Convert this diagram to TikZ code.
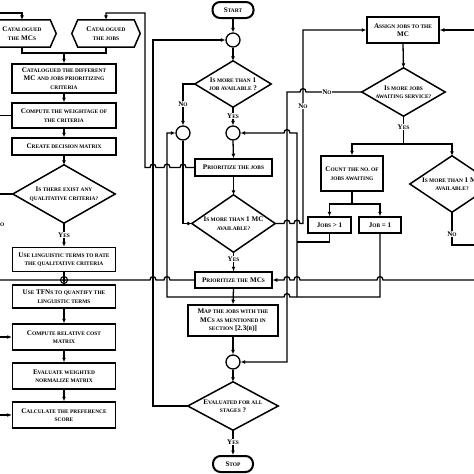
\documentclass[tikz,border=0pt]{standalone}
\usepackage{fontspec}
\setmainfont{Liberation Serif}
\usetikzlibrary{arrows.meta}
\newcommand\smc[1]{{\fontsize{5.4}{8.5}\selectfont\MakeUppercase{#1}}}
\newcommand\hopR[2]{-- (#1-3,#2) .. controls (#1-3,#2-4.5) and (#1+3,#2-4.5) .. (#1+3,#2)}
\newcommand\hopL[2]{-- (#1+3,#2) .. controls (#1+3,#2-4.5) and (#1-3,#2-4.5) .. (#1-3,#2)}
\begin{document}
\begin{tikzpicture}[x=1pt,y=-1pt,
  every node/.style={font=\fontsize{7.1}{8.5}\selectfont\bfseries, inner sep=0pt, align=center},
  box/.style={draw, line width=1.5pt},
  ghost/.style={draw=none},
  ln/.style={line width=1.3pt},
  arr/.style={line width=1.3pt, -{Latex[length=4.5pt,width=4pt]}},
  crc/.style={draw, circle, line width=1.3pt, minimum size=14pt},
  lbl/.style={fill=white, inner sep=0.8pt},
  term/.style={draw, line width=2pt, rounded corners=7.5pt},
  shp/.style={line width=1.5pt}]
\useasboundingbox (0,0) rectangle (474,474);
\clip (0,0) rectangle (474,474);
\fill[white] (0,0) rectangle (474,474);

% free ends
\coordinate (eTL) at (0,13);
\coordinate (eL2) at (0,115.5);
\coordinate (eL3) at (0,194);
\coordinate (eL4) at (0,280);
\coordinate (eL5) at (0,337);
\coordinate (eL6) at (0,415);
\coordinate (eR1) at (474,30);
\coordinate (eR2) at (474,280);
\coordinate (eR3) at (474,245);

% ---------- left column ----------
\node[ghost, minimum width=56pt, minimum height=27pt] (hexM) at (22,33.5) {C\smc{atalogued}\\\smc{the} MC\smc{s}};
\draw[shp] ([xshift=-6pt]hexM.west) -- (hexM.north west) -- (hexM.north east) -- ([xshift=6pt]hexM.east) -- (hexM.south east) -- (hexM.south west) -- cycle;
\node[ghost, minimum width=56pt, minimum height=27pt] (hexJ) at (106,33.5) {C\smc{atalogued}\\\smc{the jobs}};
\draw[shp] ([xshift=-6pt]hexJ.west) -- (hexJ.north west) -- (hexJ.north east) -- ([xshift=6pt]hexJ.east) -- (hexJ.south east) -- (hexJ.south west) -- cycle;

\node[box, minimum width=104pt, minimum height=29pt] (b1) at (64,78.5) {C\smc{atalogued the different}\\MC \smc{and jobs prioritizing}\\\smc{criteria}};
\node[box, minimum width=104pt, minimum height=25pt] (b2) at (64,115.5) {C\smc{ompute the weightage of}\\\smc{the criteria}};
\node[box, minimum width=104pt, minimum height=17pt] (b3) at (64,146.5) {C\smc{reate decision matrix}};
\node[ghost, minimum width=102pt, minimum height=58pt] (d1) at (64,194) {I\smc{s there exist any}\\\smc{qualitative criteria?}};
\draw[shp] (d1.north) -- (d1.east) -- (d1.south) -- (d1.west) -- cycle;
\node[box, minimum width=103pt, minimum height=24pt] (b4) at (64,259.5) {U\smc{se linguistic terms to rate}\\\smc{the qualitative criteria}};
\node[draw, circle, line width=1.1pt, minimum size=7pt] (x0) at (64,280) {};
\node[box, minimum width=103pt, minimum height=23pt] (b5) at (64,296.5) {U\smc{se} TFN\smc{s to quantify the}\\\smc{linguistic terms}};
\node[box, minimum width=103pt, minimum height=26pt] (b6) at (64,337) {C\smc{ompute relative cost}\\\smc{matrix}};
\node[box, minimum width=103pt, minimum height=26pt] (b7) at (64,376) {E\smc{valuate weighted}\\\smc{normalize matrix}};
\node[box, minimum width=103pt, minimum height=26pt] (b8) at (64,415) {C\smc{alculate the preference}\\\smc{score}};

% ---------- middle column ----------
\node[term, minimum width=41pt, minimum height=16pt] (start) at (233,10) {S\smc{tart}};
\node[crc] (c1) at (233,40) {};
\node[ghost, minimum width=76pt, minimum height=46pt] (d2) at (233,84) {I\smc{s more than} 1\\\smc{job available} ?};
\draw[shp] (d2.north) -- (d2.east) -- (d2.south) -- (d2.west) -- cycle;
\node[crc] (c2) at (183,133) {};
\node[crc] (c3) at (233,133) {};
\node[box, minimum width=77pt, minimum height=17pt] (pj) at (233.5,167.5) {P\smc{rioritize the jobs}};
\node[ghost, minimum width=83pt, minimum height=57pt] (d3) at (233.5,223.5) {I\smc{s more than} 1 MC\\\smc{available?}};
\draw[shp] (d3.north) -- (d3.east) -- (d3.south) -- (d3.west) -- cycle;
\node[box, minimum width=77pt, minimum height=16pt] (pm) at (233.5,280) {P\smc{rioritize the} MC\smc{s}};
\node[box, minimum width=90pt, minimum height=31pt] (map) at (233,320.5) {M\smc{ap the jobs with the}\\MC\smc{s as mentioned in}\\\smc{section} [2.3(\smc{b})]};
\node[crc] (c4) at (233,362) {};
\node[ghost, minimum width=90pt, minimum height=48pt] (d4) at (233,406) {E\smc{valuated for all}\\\smc{stages} ?};
\draw[shp] (d4.north) -- (d4.east) -- (d4.south) -- (d4.west) -- cycle;
\node[term, minimum width=40pt, minimum height=16pt] (stop) at (233,464) {S\smc{top}};

% ---------- right part ----------
\node[box, minimum width=72pt, minimum height=26pt] (assign) at (403,30) {A\smc{ssign jobs to the}\\MC};
\node[ghost, minimum width=83pt, minimum height=48pt] (d5) at (403.5,92) {I\smc{s more jobs}\\\smc{awaiting service?}};
\draw[shp] (d5.north) -- (d5.east) -- (d5.south) -- (d5.west) -- cycle;
\node[box, minimum width=62pt, minimum height=35pt] (count) at (352,173.5) {C\smc{ount the no. of}\\\smc{jobs awaiting}};
\node[box, minimum width=43pt, minimum height=16pt] (jg) at (329.5,225) {J\smc{obs} > 1};
\node[box, minimum width=42pt, minimum height=16pt] (je) at (380,225) {J\smc{ob} = 1};
\node[ghost, minimum width=84pt, minimum height=56pt] (d6) at (452,184) {I\smc{s more than} 1 MC\\\smc{available?}};
\draw[shp] (d6.north) -- (d6.east) -- (d6.south) -- (d6.west) -- cycle;

% ---------- connectors: left ----------
\draw[arr] (eTL) -- (22,13) -- (hexM.north);
\draw[ln] (hexM.south) -- (22,53) -- (106,53) -- (hexJ.south);
\draw[arr] (64,53) -- (b1.north);
\draw[arr] (b1.south) -- (b2.north);
\draw[arr] (b2.south) -- (b3.north);
\draw[arr] (b3.south) -- (d1.north);
\draw[ln] (eL2) -- (b2.west);
\draw[ln] (eL3) -- (d1.west);
\draw[arr] (d1.south) -- (b4.north);
\draw[arr] (b4.south) -- (b5.north);
\draw[arr] (b5.south) -- (b6.north);
\draw[arr] (b6.south) -- (b7.north);
\draw[arr] (b7.south) -- (b8.north);
\draw[arr] (eL5) -- (b6.west);
\draw[arr] (eL6) -- (b8.west);
\draw[ln] (eL4) \hopR{153}{280} \hopR{167}{280} -- (pm.west);

% ---------- connectors: middle ----------
\draw[arr] (start.south) -- (c1.north);
\draw[arr] (c1.south) -- (d2.north);
\draw[arr] (d2.west) -- (183,84) -- (c2.north);
\draw[arr] (d2.south) -- (c3.north);
\draw[arr] (c3.south) -- (pj.north);
\draw[arr] (c2.south) -- (183,223.5) -- (d3.west);
\draw[arr] (pj.south) -- (d3.north);
\draw[arr] (d3.south) -- (pm.north);
\draw[arr] (pm.south) -- (map.north);
\draw[arr] (map.south) -- (c4.north);
\draw[arr] (c4.south) -- (d4.north);
\draw[arr] (d4.south) -- (stop.north);
\draw[arr] (d4.west) -- (153,406) -- (153,40) -- (c1.west);
\draw[arr] (pj.west) \hopL{183}{167.5} \hopL{167}{167.5} \hopL{153}{167.5} -- (145,167.5) -- (145,13) -- (106,13) -- (hexJ.north);
\draw[arr] (d3.east) \hopR{287}{223.5} \hopR{297}{223.5} -- (303,223.5) -- (303,30) -- (assign.west);
\draw[arr] (d5.west) \hopL{303}{92} -- (287,92) -- (287,362) -- (c4.east);
\draw[arr] (je.south) -- (380,297) \hopL{287}{297} -- (167,297) -- (167,133) -- (c2.west);
\draw[arr] (297,297) -- (297,133) \hopL{287}{133} -- (c3.east);
\draw[ln] (jg.south) -- (329.5,242) -- (297,242);
\draw[arr] (eR2) \hopL{380}{280} \hopL{297}{280} \hopL{287}{280} -- (pm.east);

% ---------- connectors: right ----------
\draw[arr] (eR1) -- (assign.east);
\draw[arr] (assign.south) -- (d5.north);
\draw[arr] (d5.south) -- (403.5,144) -- (352,144) -- (count.north);
\draw[arr] (403.5,144) -- (452,144) -- (d6.north);
\draw[arr] (count.south) -- (352,204) -- (329.5,204) -- (jg.north);
\draw[arr] (352,204) -- (380,204) -- (je.north);
\draw[ln] (d6.south) -- (452,245) -- (eR3);

% ---------- labels ----------
\node[anchor=east] (lNo0) at (4.5,224) {N\smc{o}};
\node[lbl] (lY1) at (64,235) {Y\smc{es}};
\node[lbl] (lN2) at (183,104) {N\smc{o}};
\node[lbl] (lY2) at (233,116) {Y\smc{es}};
\node[lbl] (lY3) at (233.5,259) {Y\smc{es}};
\node[lbl] (lY4) at (233,442) {Y\smc{es}};
\node[lbl] (lN3) at (303,106) {N\smc{o}};
\node[lbl] (lN4) at (327,92) {N\smc{o}};
\node[lbl] (lY5) at (403.5,127) {Y\smc{es}};
\node[lbl] (lN5) at (452,234) {N\smc{o}};
\end{tikzpicture}
\end{document}
